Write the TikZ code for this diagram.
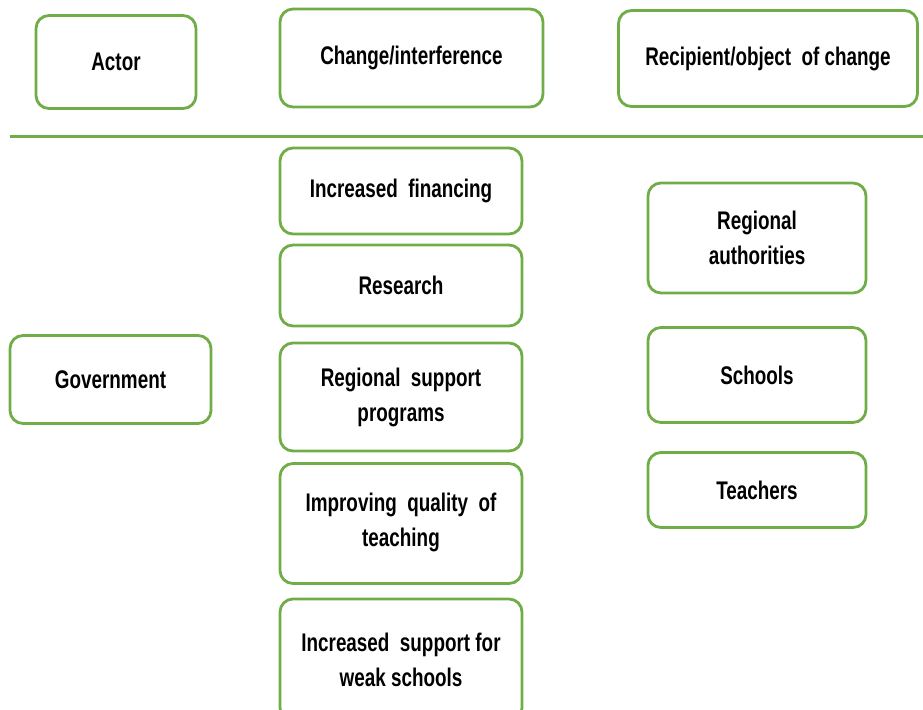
\documentclass[tikz,border=0pt]{standalone}
\usepackage{fontspec}
\newfontfamily\condfont[FakeStretch=0.74]{Liberation Sans}
\definecolor{boxgreen}{RGB}{112,173,71}
\begin{document}
\begin{tikzpicture}[x=1pt,y=-1pt,
  box/.style={draw=boxgreen, line width=2.8pt, rounded corners=13pt, fill=white,
    inner sep=0pt, align=center, font=\condfont\bfseries\fontsize{25.5}{35}\selectfont,
    text=black},
]
\useasboundingbox (0,0) rectangle (923,709);
\clip (0,0) rectangle (923,709);
% header
\node[box, minimum width=160pt, minimum height=93pt] (actor) at (116,62) {Actor};
\node[box, minimum width=263pt, minimum height=98pt] (change) at (411.5,58) {Change/interference};
\node[box, minimum width=299pt, minimum height=96pt] (recip) at (768,58.5) {Recipient/object\ \ of change};
% separator
\coordinate (l1) at (10,136);
\coordinate (l2) at (923,136);
\draw[boxgreen, line width=3pt] (l1) -- (l2);
% actor column
\node[box, minimum width=201pt, minimum height=88pt] (gov) at (110.5,379.5) {Government};
% change column
\node[box, minimum width=242pt, minimum height=86pt] (fin) at (401,191) {Increased\ \ financing};
\node[box, minimum width=242pt, minimum height=81pt] (res) at (401,285.5) {Research};
\node[box, minimum width=242pt, minimum height=108pt] (reg) at (401,397) {Regional\ \ support\\programs};
\node[box, minimum width=242pt, minimum height=120pt] (qual) at (401,523.5) {Improving\ \ quality\ \ of\\teaching\\[-27pt]};
\node[box, minimum width=242pt, minimum height=122pt] (weak) at (401,660) {Increased\ \ support for\\weak schools};
% recipient column
\node[box, minimum width=218pt, minimum height=110pt] (auth) at (757,238) {Regional\\authorities};
\node[box, minimum width=218pt, minimum height=95pt] (schools) at (757,375) {Schools};
\node[box, minimum width=218pt, minimum height=75pt] (teach) at (757,490) {Teachers};
\end{tikzpicture}
\end{document}
